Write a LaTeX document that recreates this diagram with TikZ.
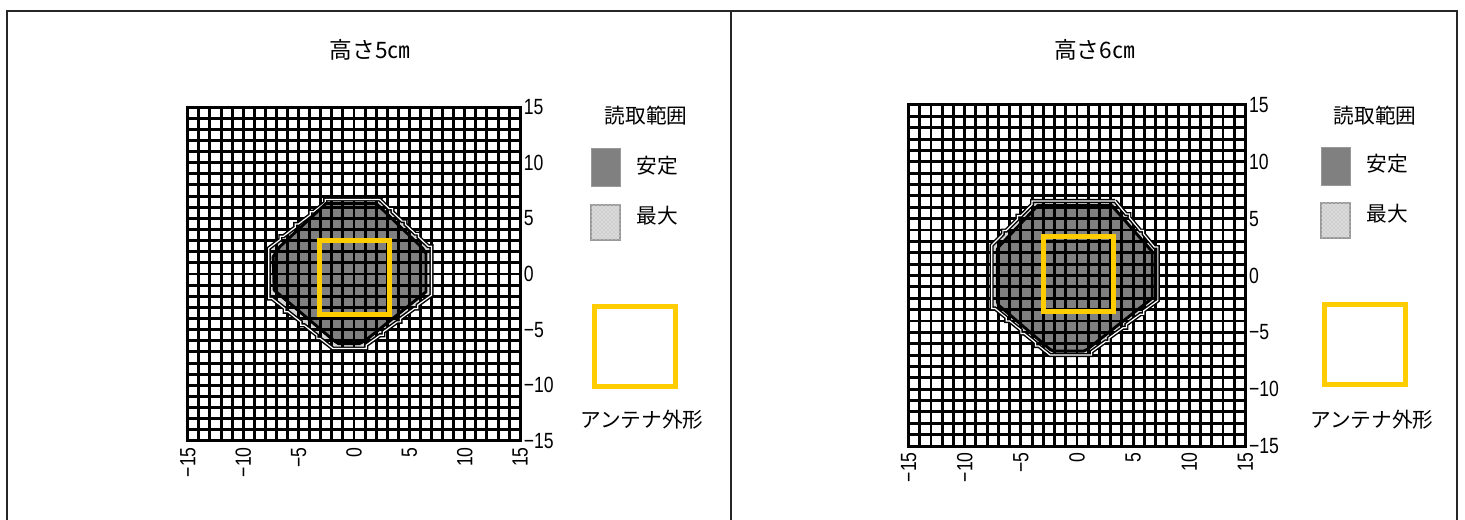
\documentclass[tikz,border=0pt]{standalone}
\usepackage{fontspec}
\setmainfont{Noto Sans CJK JP}
\newfontfamily\tickfont[FakeStretch=0.8]{Liberation Sans}
\usetikzlibrary{patterns}
\definecolor{stablegray}{HTML}{808080}
\definecolor{antyellow}{HTML}{FFCC00}
\definecolor{maxgray}{HTML}{D0D0D0}
\newcommand\mygridpanel[1]{%
  \foreach \i in {-15,...,15}{
    \draw[gridln] (\i,-15) -- (\i,15);
    \draw[gridln] (-15,\i) -- (15,\i);
  }
  \draw[gridln, line join=miter] (-15,-15) rectangle (15,15);
  \foreach \v/\t in {15/15,10/10,5/5,0/0,-5/−5,-10/−10,-15/−15}{
    \node[ticklbl, anchor=west, xshift=2.5pt] (#1y\v) at (15,\v) {\t};
    \node[ticklbl, yshift=-4.5pt, rotate=90, anchor=east] (#1x\v) at (\v,-15) {\t};
  }%
}
\begin{document}
\begin{tikzpicture}[x=0.75pt,y=-0.75pt,
  gridln/.style={line width=2.2pt, black},
  frameln/.style={line width=1.1pt, black!85},
  stableline/.style={draw=black, line width=2.2pt, line join=round},
  maxline/.style={draw=black, double=white, double distance=0.9pt, line width=1.1pt, line join=miter},
  antenna/.style={draw=antyellow, line width=3.75pt},
  ticklbl/.style={inner sep=0pt, font=\tickfont\fontsize{16.5}{19}\selectfont},
  lgtext/.style={inner sep=0pt, font=\fontsize{15.5}{18}\selectfont},
  ttl/.style={inner sep=0pt, font=\fontsize{17}{20}\selectfont},
  stablebox/.style={fill=stablegray, draw=black!40, line width=0.6pt, minimum width=21.75pt, minimum height=28.5pt, inner sep=0pt},
  maxbox/.style={fill=maxgray, draw=black!40, line width=1pt, minimum width=21.75pt, minimum height=26.25pt, inner sep=0pt,
     postaction={pattern=crosshatch dots, pattern color=white}},
  antbox/.style={antenna, minimum width=60.75pt, minimum height=60pt, inner sep=0pt}
]
\useasboundingbox (0,0) rectangle (1465,520);
% frame
\coordinate (f1) at (7,520);
\coordinate (f2) at (7,11);
\coordinate (f3) at (1457,11);
\coordinate (f4) at (1457,520);
\coordinate (fm1) at (731,11);
\coordinate (fm2) at (731,520);
\draw[frameln, line join=miter] (f1) -- (f2) -- (f3) -- (f4);
\draw[frameln] (fm1) -- (fm2);

% ---------- left panel ----------
\node[ttl] (title1) at (370,50) {高さ5㎝};
\begin{scope}[xshift=265.5pt, yshift=-205.5pt, x=8.31pt, y=8.3475pt]
  \def\mxL{(2.3,6.7) -- (-2.3,6.7)
    \foreach \k in {1,2,3,4}{ -- ++(-0.3,0) -- ++(0,-0.3) -- ++(-1.05,-0.8) }
    -- (-7.7,-1.9)
    \foreach \k in {1,2,3,4}{ -- ++(0,-0.3) -- ++(0.3,0) -- ++(1.15,-0.9) }
    -- (0.8,-6.7)
    \foreach \k in {1,2,3,4}{ -- ++(0.3,0) -- ++(0,0.3) -- ++(1.25,0.9) }
    -- (7.0,2.2)
    \foreach \k in {1,2,3,4}{ -- ++(0,0.3) -- ++(-0.3,0) -- ++(-0.875,0.825) }
    -- cycle}
  \def\stL{(-2.5,6.35) -- (2.0,6.35) -- (6.2,2.3) -- (6.5,1.85) -- (6.5,-1.6) -- (1.0,-6.0) -- (0.5,-6.25) -- (-1.4,-6.25) -- (-1.8,-6.0) -- (-7.2,-1.45) -- (-7.3,1.55) -- (-6.7,2.45) -- cycle}
  \fill[maxgray] \mxL;
  \fill[pattern=crosshatch dots, pattern color=white] \mxL;
  \fill[stablegray] \stL;
  \mygridpanel{L}
  \draw[maxline] \mxL;
  \draw[stableline] \stL;
  \draw[antenna] (-3.07,-3.66) rectangle (3.16,3.05);
\end{scope}
% legend left
\node[lgtext] (lt1) at (646,116) {読取範囲};
\node[stablebox] (ks1) at (605.5,167.5) {};
\node[lgtext] (kt1) at (657.5,166) {安定};
\node[maxbox] (km1) at (605.5,222.5) {};
\node[lgtext] (kn1) at (657.5,216) {最大};
\node[antbox] (ka1) at (634.5,347) {};
\node[lgtext] (kl1) at (642,420) {アンテナ外形};

% ---------- right panel ----------
\node[ttl] (title2) at (1094.5,50) {高さ6㎝};
\begin{scope}[xshift=807.75pt, yshift=-206.625pt, x=8.4225pt, y=8.5275pt]
  \def\mxR{(3.4,6.55) -- (-3.7,6.55)
    \foreach \k in {1,2,3}{ -- ++(-0.3,0) -- ++(0,-0.3) -- ++(-1.0,-1.0) }
    -- (-7.6,-2.6)
    \foreach \k in {1,2,3,4}{ -- ++(0,-0.3) -- ++(0.3,0) -- ++(1.0,-0.8) }
    -- (1.0,-7.0)
    \foreach \k in {1,2,3,4}{ -- ++(0.3,0) -- ++(0,0.3) -- ++(1.25,0.9) }
    -- (7.2,2.2)
    \foreach \k in {1,2,3}{ -- ++(0,0.3) -- ++(-0.3,0) -- ++(-0.967,1.15) }
    -- cycle}
  \def\stR{(-3.5,6.15) -- (3.1,6.15) -- (6.7,2.1) -- (6.7,-2.0) -- (0.9,-6.5) -- (0.6,-6.65) -- (-2.1,-6.65) -- (-2.4,-6.5) -- (-7.0,-2.6) -- (-7.1,-2.3) -- (-7.1,2.3) -- (-6.9,2.6) -- cycle}
  \fill[maxgray] \mxR;
  \fill[pattern=crosshatch dots, pattern color=white] \mxR;
  \fill[stablegray] \stR;
  \mygridpanel{R}
  \draw[maxline] \mxR;
  \draw[stableline] \stR;
  \draw[antenna] (-2.98,-3.17) rectangle (3.22,3.46);
\end{scope}
% legend right
\node[lgtext] (lt2) at (1375,116) {読取範囲};
\node[stablebox] (ks2) at (1335.5,166) {};
\node[lgtext] (kt2) at (1387,164) {安定};
\node[maxbox] (km2) at (1335.5,220.5) {};
\node[lgtext] (kn2) at (1387,214) {最大};
\node[antbox] (ka2) at (1364.5,345) {};
\node[lgtext] (kl2) at (1372,420) {アンテナ外形};
\end{tikzpicture}
\end{document}
